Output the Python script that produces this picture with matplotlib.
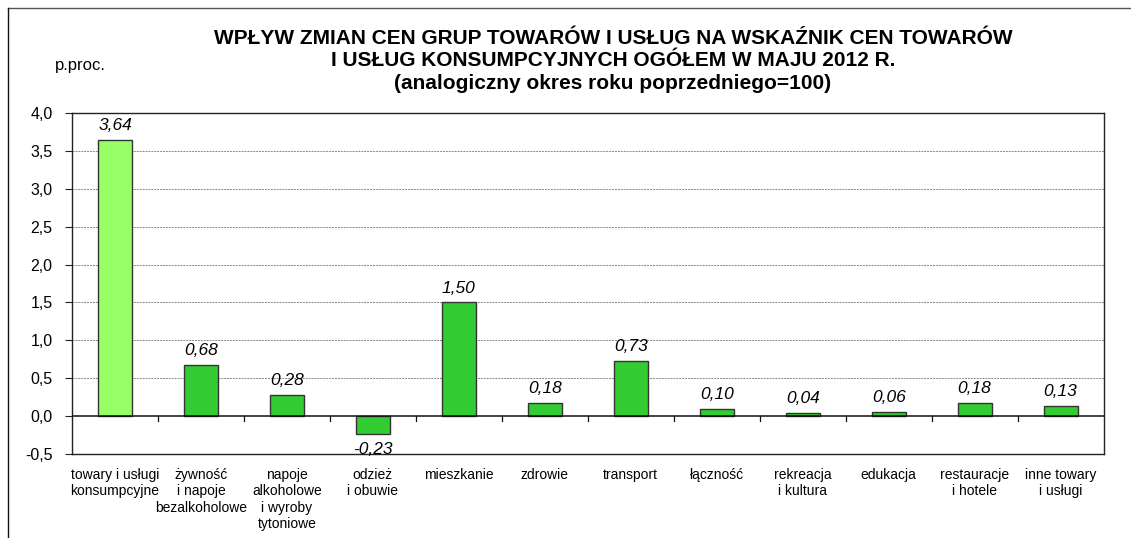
import matplotlib
matplotlib.use("Agg")
import matplotlib.pyplot as plt
from matplotlib.lines import Line2D
import numpy as np

plt.rcParams['font.family'] = ['Liberation Sans', 'DejaVu Sans']

categories = [
    "towary i usługi\nkonsumpcyjne",
    "żywność\ni napoje\nbezalkoholowe",
    "napoje\nalkoholowe\ni wyroby\ntytoniowe",
    "odzież\ni obuwie",
    "mieszkanie",
    "zdrowie",
    "transport",
    "łączność",
    "rekreacja\ni kultura",
    "edukacja",
    "restauracje\ni hotele",
    "inne towary\ni usługi",
]
values = [3.64, 0.68, 0.28, -0.23, 1.50, 0.18, 0.73, 0.10, 0.04, 0.06, 0.18, 0.13]
value_labels = ["3,64", "0,68", "0,28", "-0,23", "1,50", "0,18", "0,73", "0,10", "0,04", "0,06", "0,18", "0,13"]
yticks = [-0.5, 0.0, 0.5, 1.0, 1.5, 2.0, 2.5, 3.0, 3.5, 4.0]
ytick_labels = ["-0,5", "0,0", "0,5", "1,0", "1,5", "2,0", "2,5", "3,0", "3,5", "4,0"]
title = ("WPŁYW ZMIAN CEN GRUP TOWARÓW I USŁUG NA WSKAŹNIK CEN TOWARÓW\n"
         "I USŁUG KONSUMPCYJNYCH OGÓŁEM W MAJU 2012 R.\n"
         "(analogiczny okres roku poprzedniego=100)")

fig = plt.figure(figsize=(11.31, 5.38), dpi=100)
ax = fig.add_axes([0.0637, 0.156, 0.912, 0.634])

x = np.arange(len(categories))
colors = ["#99FF66"] + ["#33CC33"] * (len(values) - 1)
ax.bar(x, values, width=0.395, color=colors, edgecolor="#333333", linewidth=1.0, zorder=3)

ax.set_xlim(-0.5, len(categories) - 0.5)
ax.set_ylim(-0.5, 4.0)
ax.set_yticks(yticks)
ax.set_yticklabels(ytick_labels, fontsize=11.5)
ax.tick_params(axis='y', length=5, width=0.8, color='#222222', pad=9)

for yv in yticks[2:-1]:
    ax.axhline(yv, color='#888888', linestyle=(0, (2, 1)), linewidth=0.7, zorder=1)
ax.axhline(0.0, color='#111111', linewidth=1.1, zorder=4)

# category boundary ticks on the zero line
for b in np.arange(0.5, len(categories) - 0.5, 1.0):
    ax.plot([b, b], [0.0, -0.065], color='#111111', linewidth=0.9, zorder=4, clip_on=False)

ax.set_xticks(x)
ax.set_xticklabels(categories, fontsize=10, linespacing=1.22)
ax.tick_params(axis='x', length=0, pad=10)

for s in ax.spines.values():
    s.set_color('#222222')
    s.set_linewidth(1.0)

for xi, v, lab in zip(x, values, value_labels):
    if v >= 0:
        ax.text(xi, v + 0.09, lab, ha='center', va='bottom', fontsize=12.5, style='italic', zorder=5)
    else:
        ax.text(xi, v - 0.11, lab, ha='center', va='top', fontsize=12.5, style='italic', zorder=5)

fig.text(0.542, 0.947, title, ha='center', va='top', fontsize=15, fontweight='bold', linespacing=1.25)
fig.text(55/1131, 0.879, "p.proc.", ha='left', va='center', fontsize=12)

# outer frame lines
fig.add_artist(Line2D([8/1131, 1.0], [1 - 8/538, 1 - 8/538], color='#555555', linewidth=1.0, transform=fig.transFigure))
fig.add_artist(Line2D([8/1131, 8/1131], [0.0, 1 - 8/538], color='#111111', linewidth=1.0, transform=fig.transFigure))

fig.savefig("out.png", dpi=100)
